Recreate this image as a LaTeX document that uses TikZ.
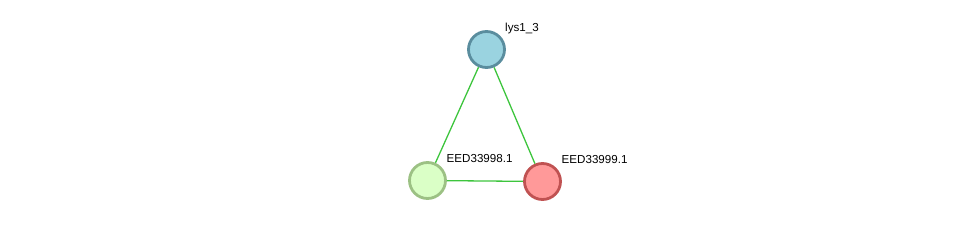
\documentclass[tikz,border=0pt]{standalone}
\usepackage{fontspec}
\setmainfont{Liberation Sans}
\definecolor{edgec}{HTML}{3DC53D}
\definecolor{bluef}{HTML}{9AD3E0}
\definecolor{blued}{HTML}{5A8D9E}
\definecolor{greenf}{HTML}{DAFFC6}
\definecolor{greend}{HTML}{9CC184}
\definecolor{redf}{HTML}{FF9999}
\definecolor{redd}{HTML}{C05252}
\tikzset{
  prot/.style={circle, minimum size=36pt, inner sep=0pt, line width=2.8pt},
  lbl/.style={anchor=base west, inner sep=0pt, font=\fontsize{11.6}{13}\selectfont},
  edge/.style={edgec, line width=1.3pt}
}
\begin{document}
\begin{tikzpicture}[x=1pt,y=-1pt]
\useasboundingbox (0,0) rectangle (975,227);
\node[prot, draw=blued, fill=bluef] (a) at (486.5,49.5) {};
\node[prot, draw=greend, fill=greenf] (b) at (427.5,180.5) {};
\node[prot, draw=redd, fill=redf] (c) at (542.5,181.5) {};
\draw[edge] (a) -- (b);
\draw[edge] (a) -- (c);
\draw[edge] (b) -- (c);
\node[lbl] (la) at (505,32) {lys1\_3};
\node[lbl] (lb) at (446.5,162.5) {EED33998.1};
\node[lbl] (lc) at (561.5,163.5) {EED33999.1};
\end{tikzpicture}
\end{document}
